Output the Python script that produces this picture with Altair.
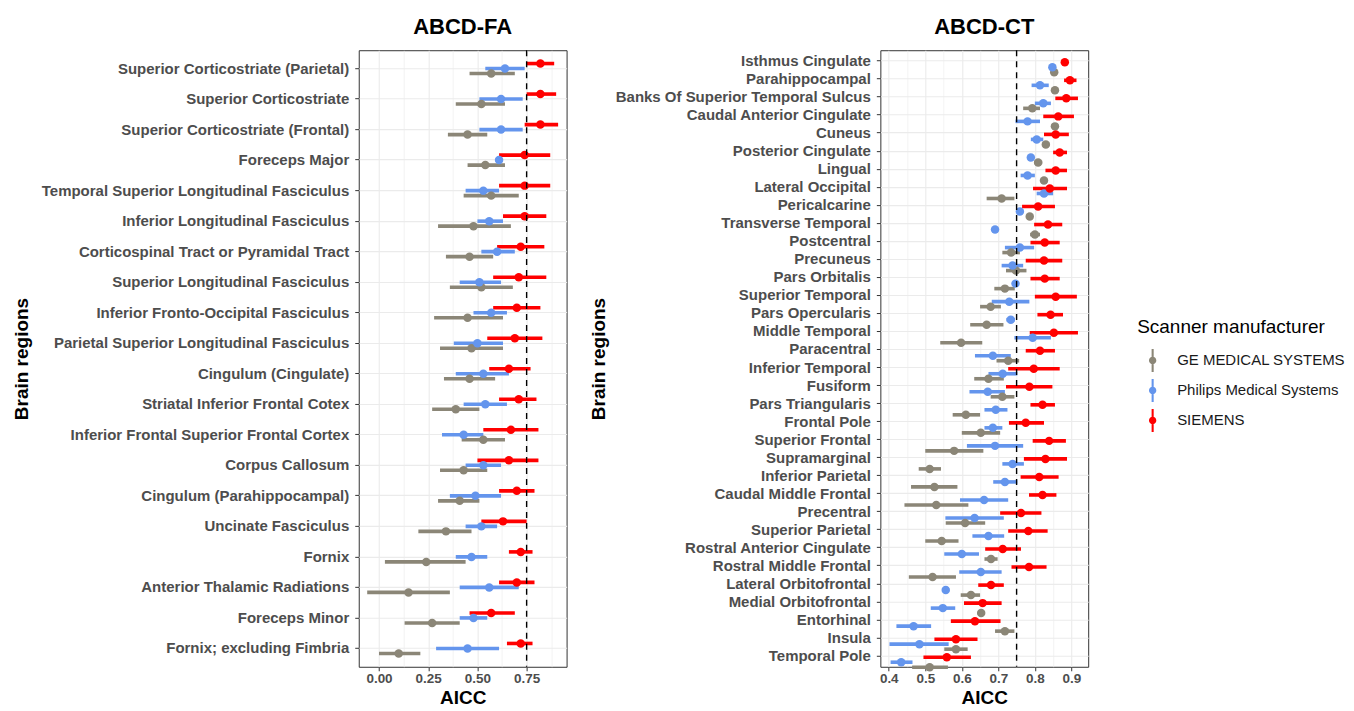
import altair as alt
import pandas as pd

manufacturers = ["GE MEDICAL SYSTEMS", "Philips Medical Systems", "SIEMENS"]
colors = ["#8B8677", "#6495ED", "#FF0000"]
threshold = 0.75

# ---------------- ABCD-FA ----------------
fa_regions = [
    "Superior Corticostriate (Parietal)", "Superior Corticostriate",
    "Superior Corticostriate (Frontal)", "Foreceps Major",
    "Temporal Superior Longitudinal Fasciculus", "Inferior Longitudinal Fasciculus",
    "Corticospinal Tract or Pyramidal Tract", "Superior Longitudinal Fasciculus",
    "Inferior Fronto-Occipital Fasciculus", "Parietal Superior Longitudinal Fasciculus",
    "Cingulum (Cingulate)", "Striatal Inferior Frontal Cotex",
    "Inferior Frontal Superior Frontal Cortex", "Corpus Callosum",
    "Cingulum (Parahippocampal)", "Uncinate Fasciculus", "Fornix",
    "Anterior Thalamic Radiations", "Foreceps Minor", "Fornix; excluding Fimbria",
]
fa_ge_mid = [0.57, 0.52, 0.45, 0.54, 0.57, 0.48, 0.46, 0.52, 0.45, 0.47,
             0.46, 0.39, 0.53, 0.43, 0.41, 0.34, 0.24, 0.15, 0.27, 0.10]
fa_ge_lo = [0.46, 0.39, 0.35, 0.45, 0.43, 0.30, 0.34, 0.36, 0.28, 0.31,
            0.33, 0.27, 0.42, 0.31, 0.30, 0.20, 0.03, -0.06, 0.13, 0.00]
fa_ge_hi = [0.69, 0.64, 0.55, 0.64, 0.71, 0.67, 0.58, 0.68, 0.63, 0.63,
            0.59, 0.51, 0.64, 0.55, 0.51, 0.47, 0.44, 0.36, 0.41, 0.21]
fa_ph_mid = [0.64, 0.62, 0.62, 0.61, 0.53, 0.56, 0.60, 0.51, 0.57, 0.50,
             0.53, 0.54, 0.43, 0.53, 0.49, 0.52, 0.47, 0.56, 0.48, 0.45]
fa_ph_lo = [0.54, 0.51, 0.51, 0.60, 0.44, 0.50, 0.52, 0.41, 0.48, 0.38,
            0.39, 0.43, 0.32, 0.44, 0.36, 0.44, 0.39, 0.41, 0.41, 0.29]
fa_ph_hi = [0.74, 0.73, 0.73, 0.62, 0.61, 0.63, 0.69, 0.62, 0.65, 0.63,
            0.66, 0.65, 0.53, 0.62, 0.62, 0.60, 0.55, 0.71, 0.55, 0.61]
fa_si_mid = [0.82, 0.82, 0.82, 0.74, 0.74, 0.74, 0.72, 0.71, 0.70, 0.69,
             0.66, 0.71, 0.67, 0.66, 0.70, 0.63, 0.72, 0.70, 0.57, 0.72]
fa_si_lo = [0.75, 0.75, 0.74, 0.61, 0.61, 0.63, 0.60, 0.58, 0.58, 0.55,
            0.56, 0.61, 0.53, 0.50, 0.61, 0.52, 0.66, 0.61, 0.46, 0.65]
fa_si_hi = [0.89, 0.90, 0.91, 0.87, 0.87, 0.85, 0.84, 0.85, 0.82, 0.83,
            0.77, 0.80, 0.81, 0.81, 0.79, 0.75, 0.78, 0.79, 0.69, 0.78]
fa_grid = [0.0, 0.125, 0.25, 0.375, 0.5, 0.625, 0.75, 0.875]

# ---------------- ABCD-CT ----------------
ct_regions = [
    "Isthmus Cingulate", "Parahippocampal", "Banks Of Superior Temporal Sulcus",
    "Caudal Anterior Cingulate", "Cuneus", "Posterior Cingulate", "Lingual",
    "Lateral Occipital", "Pericalcarine", "Transverse Temporal", "Postcentral",
    "Precuneus", "Pars Orbitalis", "Superior Temporal", "Pars Opercularis",
    "Middle Temporal", "Paracentral", "Inferior Temporal", "Fusiform",
    "Pars Triangularis", "Frontal Pole", "Superior Frontal", "Supramarginal",
    "Inferior Parietal", "Caudal Middle Frontal", "Precentral", "Superior Parietal",
    "Rostral Anterior Cingulate", "Rostral Middle Frontal", "Lateral Orbitofrontal",
    "Medial Orbitofrontal", "Entorhinal", "Insula", "Temporal Pole",
]
ct_si_mid = [0.882, 0.896, 0.886, 0.864, 0.857, 0.868, 0.857, 0.841, 0.809, 0.836,
             0.827, 0.825, 0.827, 0.857, 0.843, 0.852, 0.814, 0.797, 0.785, 0.821,
             0.775, 0.839, 0.829, 0.812, 0.821, 0.762, 0.782, 0.712, 0.784, 0.680,
             0.657, 0.636, 0.584, 0.559]
ct_si_lo = [0.875, 0.880, 0.856, 0.823, 0.825, 0.850, 0.829, 0.795, 0.765, 0.798,
            0.788, 0.775, 0.788, 0.800, 0.807, 0.786, 0.775, 0.727, 0.721, 0.788,
            0.729, 0.794, 0.770, 0.761, 0.784, 0.705, 0.727, 0.664, 0.736, 0.645,
            0.606, 0.570, 0.525, 0.495]
ct_si_hi = [0.890, 0.914, 0.918, 0.907, 0.893, 0.888, 0.888, 0.888, 0.855, 0.875,
            0.868, 0.875, 0.868, 0.915, 0.877, 0.918, 0.855, 0.868, 0.848, 0.855,
            0.825, 0.885, 0.888, 0.865, 0.859, 0.818, 0.835, 0.762, 0.832, 0.715,
            0.709, 0.706, 0.643, 0.625]
ct_ph_mid = [0.848, 0.814, 0.823, 0.780, 0.805, 0.789, 0.780, 0.825, 0.759, 0.691,
             0.759, 0.739, 0.747, 0.730, 0.734, 0.794, 0.685, 0.712, 0.671, 0.693,
             0.685, 0.691, 0.739, 0.718, 0.661, 0.635, 0.673, 0.600, 0.652, 0.556,
             0.548, 0.468, 0.484, 0.434]
ct_ph_lo = [0.843, 0.791, 0.800, 0.747, 0.789, 0.784, 0.761, 0.805, 0.754, 0.686,
            0.718, 0.709, 0.742, 0.682, 0.722, 0.744, 0.636, 0.673, 0.621, 0.662,
            0.662, 0.614, 0.711, 0.686, 0.595, 0.555, 0.629, 0.552, 0.593, 0.551,
            0.515, 0.421, 0.402, 0.405]
ct_ph_hi = [0.853, 0.838, 0.844, 0.814, 0.823, 0.794, 0.800, 0.850, 0.764, 0.696,
            0.798, 0.768, 0.752, 0.785, 0.745, 0.844, 0.734, 0.752, 0.718, 0.725,
            0.711, 0.768, 0.770, 0.752, 0.727, 0.715, 0.716, 0.647, 0.709, 0.561,
            0.582, 0.516, 0.564, 0.465]
ct_ge_mid = [0.853, 0.855, 0.793, 0.855, 0.830, 0.809, 0.825, 0.709, 0.786, 0.800,
             0.735, 0.748, 0.718, 0.679, 0.668, 0.598, 0.727, 0.673, 0.711, 0.611,
             0.652, 0.579, 0.512, 0.525, 0.530, 0.609, 0.545, 0.680, 0.520, 0.625,
             0.653, 0.718, 0.584, 0.512]
ct_ge_lo = [0.848, 0.850, 0.768, 0.850, 0.820, 0.798, 0.820, 0.668, 0.781, 0.787,
            0.711, 0.721, 0.689, 0.650, 0.623, 0.541, 0.695, 0.634, 0.679, 0.575,
            0.600, 0.500, 0.482, 0.461, 0.443, 0.556, 0.500, 0.662, 0.455, 0.597,
            0.648, 0.691, 0.552, 0.464]
ct_ge_hi = [0.858, 0.860, 0.814, 0.860, 0.840, 0.820, 0.830, 0.744, 0.791, 0.814,
            0.759, 0.777, 0.745, 0.707, 0.714, 0.656, 0.757, 0.715, 0.744, 0.650,
            0.705, 0.659, 0.543, 0.588, 0.618, 0.664, 0.591, 0.698, 0.584, 0.650,
            0.658, 0.744, 0.616, 0.562]
ct_grid = [0.4, 0.45, 0.5, 0.55, 0.6, 0.65, 0.7, 0.75, 0.8, 0.85, 0.9]


def long_frame(regions, series):
    rows = []
    for m, (mid, lo, hi) in zip(manufacturers, series):
        for r, a, b, c in zip(regions, mid, lo, hi):
            rows.append({"region": r, "manufacturer": m, "mid": a, "lo": b, "hi": c})
    return pd.DataFrame(rows)


fa_df = long_frame(fa_regions, [(fa_ge_mid, fa_ge_lo, fa_ge_hi),
                                (fa_ph_mid, fa_ph_lo, fa_ph_hi),
                                (fa_si_mid, fa_si_lo, fa_si_hi)])
ct_df = long_frame(ct_regions, [(ct_ge_mid, ct_ge_lo, ct_ge_hi),
                                (ct_ph_mid, ct_ph_lo, ct_ph_hi),
                                (ct_si_mid, ct_si_lo, ct_si_hi)])

PLOT_W = 208
PLOT_H = 617
LEGEND_PATH = ("M-0.09,-1L0.09,-1L0.09,1L-0.09,1Z "
               "M-0.32,0A0.32,0.32 0 1,1 0.32,0A0.32,0.32 0 1,1 -0.32,0Z")

legend = alt.Legend(
    title="Scanner manufacturer", orient="none", legendX=779, legendY=268,
    direction="vertical", symbolType=LEGEND_PATH, symbolSize=529,
    symbolStrokeWidth=0, symbolOpacity=1, symbolOffset=4, titleFontSize=19,
    titleFontWeight="normal", titleColor="black", labelFontSize=15,
    labelColor="#1a1a1a", rowPadding=7, labelOffset=13, titlePadding=12, padding=0,
    labelLimit=400, titleLimit=400,
)


def panel(df, regions, title, domain, grid_vals, major_step, fmt, off_half, ytitle_pad):
    n = len(regions)
    step = PLOT_H / (n + 0.2)
    c = step / 2
    major_test = f"abs(datum.value / {major_step} - round(datum.value / {major_step})) < 0.001"
    x_axis = alt.Axis(
        title="AICC", values=grid_vals, labelOverlap=False,
        labelExpr=f"({major_test}) ? format(datum.value, '{fmt}') : ''",
        tickOpacity={"condition": {"test": major_test, "value": 1}, "value": 0},
        gridWidth={"condition": {"test": major_test, "value": 1.1}, "value": 0.6},
        gridColor="#EBEBEB", tickColor="#333333", tickSize=4, labelPadding=1,
        labelFontSize=13.5, labelFontWeight="bold", labelColor="#4D4D4D",
        titleFontSize=19, titleFontWeight="bold", titleColor="black", titlePadding=3,
        domain=False,
    )
    x_scale = alt.Scale(domain=domain, nice=False, zero=False)
    y = alt.Y(
        "region:N", sort=regions,
        scale=alt.Scale(domain=regions, paddingInner=0, paddingOuter=0.1),
        axis=alt.Axis(
            title="Brain regions", bandPosition=0.5, grid=True, gridColor="#EBEBEB",
            gridWidth=1.1, tickColor="#333333", tickSize=4, labelPadding=6,
            labelFontSize=15, labelFontWeight="bold", labelColor="#4D4D4D",
            labelLimit=600, titleFontSize=19, titleFontWeight="bold",
            titleColor="black", titlePadding=ytitle_pad, domain=False,
        ),
    )
    yoff = alt.YOffset(
        "manufacturer:N",
        scale=alt.Scale(domain=manufacturers[::-1], range=[c - 1.5 * off_half, c + 1.5 * off_half],
                        paddingInner=0, paddingOuter=0),
    )
    base = alt.Chart(df)
    bars = base.mark_rule(strokeWidth=3.6).encode(
        x=alt.X("lo:Q", scale=x_scale, axis=x_axis),
        x2="hi:Q",
        y=y,
        yOffset=yoff,
        stroke=alt.Stroke("manufacturer:N",
                          scale=alt.Scale(domain=manufacturers[::-1], range=colors[::-1]),
                          legend=None),
    )
    dots = base.mark_circle(size=72, opacity=1).encode(
        x=alt.X("mid:Q", scale=x_scale, axis=x_axis),
        y=y,
        yOffset=yoff,
        color=alt.Color("manufacturer:N",
                        scale=alt.Scale(domain=manufacturers, range=colors), legend=legend),
    )
    vline = alt.Chart(pd.DataFrame({"t": [threshold]})).mark_rule(
        strokeDash=[6, 5], color="black", strokeWidth=1.4
    ).encode(x=alt.X("t:Q", scale=x_scale, axis=x_axis))
    return alt.layer(bars, dots, vline).properties(
        width=PLOT_W, height=PLOT_H,
        title=alt.Title(title, fontSize=22, fontWeight="bold", anchor="middle",
                        color="black", offset=11),
    )


fa = panel(fa_df, fa_regions, "ABCD-FA", [-0.103, 0.953], fa_grid, 0.25, ".2f", 5, 127)
ct = panel(ct_df, ct_regions, "ABCD-CT", [0.377, 0.946], ct_grid, 0.1, ".1f", 3.3, 72)

chart = alt.hconcat(fa, ct, spacing=21).properties(
    padding={"left": 4, "top": 6, "right": 0, "bottom": 0}
).configure(
    font="Liberation Sans"
).configure_view(
    stroke="#333333", strokeWidth=1
)

chart.save("out.html", embed_options={"renderer": "svg", "actions": False})
